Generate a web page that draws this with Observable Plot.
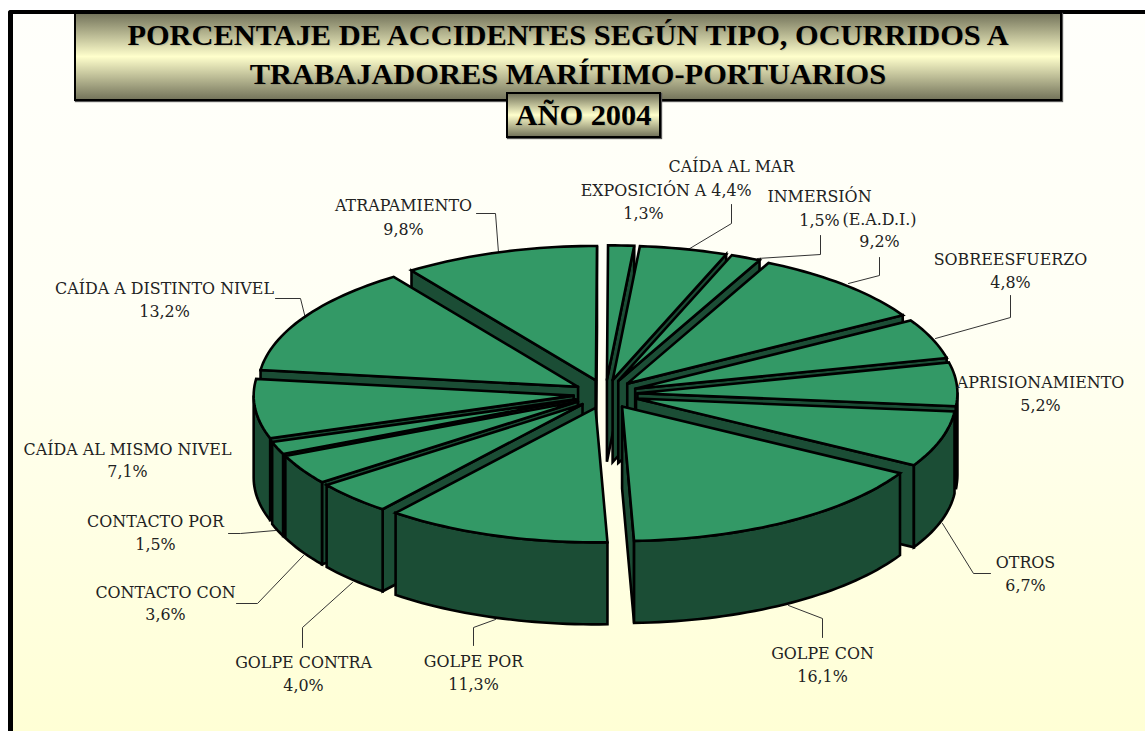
<!DOCTYPE html>
<html><head><meta charset="utf-8">
<script src="https://cdn.jsdelivr.net/npm/d3@7"></script>
<script src="https://cdn.jsdelivr.net/npm/@observablehq/plot@0.6"></script>
<style>
html,body{margin:0;padding:0;background:#fff;}
#page{position:relative;width:1145px;height:731px;overflow:hidden;}
#frame{position:absolute;left:8px;top:10px;width:1160px;height:760px;box-sizing:border-box;border-left:5px solid #000;border-top:4px solid #000;border-top-left-radius:3px;background:linear-gradient(#fffffb 0%,#fffff4 40%,#ffffd2 100%);}
.box{position:absolute;box-sizing:border-box;border:2px solid #000;box-shadow:1px 1px 1px #555;background:linear-gradient(#75755c 0%,#ffffcc 50%,#75755c 100%);font-family:"Liberation Serif",serif;font-weight:bold;color:#000;text-align:center;text-shadow:1px 1px 1px rgba(0,0,0,.12);}
#title{left:74px;top:12px;width:988px;height:89px;font-size:30.4px;line-height:39px;padding-top:2px;}
#year{left:506px;top:92px;width:155px;height:46px;font-size:30.4px;line-height:42px;}
#page svg{position:absolute;left:0;top:0;background:transparent;}
</style></head><body>
<div id="page">
<div id="frame"></div>
<div id="title" class="box">PORCENTAJE DE ACCIDENTES SEGÚN TIPO, OCURRIDOS A<br>TRABAJADORES MARÍTIMO-PORTUARIOS</div>
<div id="year" class="box">AÑO 2004</div>
</div>
<script>
const names = ["EXPOSICIÓN A","CAÍDA AL MAR","INMERSIÓN","(E.A.D.I.)","SOBREESFUERZO","APRISIONAMIENTO","OTROS","GOLPE CON","GOLPE POR","GOLPE CONTRA","CONTACTO CON","CONTACTO POR","CAÍDA AL MISMO NIVEL","CAÍDA A DISTINTO NIVEL","ATRAPAMIENTO"];
const values = [1.3,4.4,1.5,9.2,4.8,5.2,6.7,16.1,11.3,4.0,3.6,1.5,7.1,13.2,9.8];
const valueLabels = ["1,3%","4,4%","1,5%","9,2%","4,8%","5,2%","6,7%","16,1%","11,3%","4,0%","3,6%","1,5%","7,1%","13,2%","9,8%"];
// label anchor positions (same order as names)
const labelX = [643,731,819,879,1010,1040,1025,822,473,303,165,155,127,164,403];
const labelNameY = [190,166,196,219,259,382,562,653,661,662,592,521,449,288,205];
const labelValueY = [213,190,220,241,282,405,585,676,684,685,614,544,471,311,229];
// leader lines
const leaders = [
 [[731,204],[731,223],[686,250]],
 [[820,235],[820,254],[757,258]],
 [[879,257],[879,275],[848,283]],
 [[1010,295],[1010,317],[935,338]],
 [[990,573],[973,573],[942,523]],
 [[822,637],[822,618],[788,605]],
 [[473,645],[473,627],[495,619]],
 [[302,647],[302,627],[352,582]],
 [[236,603],[257,603],[303,555]],
 [[228,533],[240,533],[275,530]],
 [[275,298],[300,298],[305,318]],
 [[476,213],[495,213],[498,252]]
];
// pie geometry in chart units
const pie = {cx:605, cy:393.7, rx:320, ry:134.5, ex:32, ey:14.4, depth:82, rotate:0.2*Math.PI/180};
const colorTop = "#339966", colorSide = "#1b4d35";

const total = d3.sum(values);
let acc = 0;
const slices = values.map((v,i)=>{
  const a0 = pie.rotate+acc/total*2*Math.PI; acc += v;
  const a1 = pie.rotate+acc/total*2*Math.PI;
  const mid = (a0+a1)/2;
  return {i,a0,a1,mid,
    ax: pie.cx+pie.ex*Math.sin(mid),
    ay: pie.cy-pie.ey*Math.cos(mid)};
});
const polys = [];
let pid = 0;
function addPoly(pts,fill){
  const id = pid++;
  [...pts,pts[0]].forEach(p=>polys.push({x:p[0],y:p[1],id,fill}));
}
function rim(s,a){return [s.ax+pie.rx*Math.sin(a), s.ay-pie.ry*Math.cos(a)];}
function arc(s,a0,a1){
  const n = Math.max(2,Math.ceil((a1-a0)/(Math.PI/120)));
  return d3.range(n+1).map(k=>rim(s,a0+(a1-a0)*k/n));
}
const down = p=>[p[0],p[1]+pie.depth];
[...slices].sort((a,b)=>Math.cos(b.mid)-Math.cos(a.mid)).forEach(s=>{
  const A=[s.ax,s.ay];
  if(Math.sin(s.a0)<0){const P=rim(s,s.a0);addPoly([A,P,down(P),down(A)],colorSide);}
  if(Math.sin(s.a1)>0){const P=rim(s,s.a1);addPoly([A,P,down(P),down(A)],colorSide);}
  const r0=Math.max(s.a0,Math.PI/2), r1=Math.min(s.a1,3*Math.PI/2);
  if(r1>r0){const t=arc(s,r0,r1);addPoly([...t,...t.slice().reverse().map(down)],colorSide);}
  addPoly([A,...arc(s,s.a0,s.a1)],colorTop);
});
const leaderRows = leaders.flatMap((l,k)=>l.map(p=>({x:p[0],y:p[1],k})));
const labelRows = names.map((n,i)=>({n,v:valueLabels[i],x:labelX[i],y1:labelNameY[i],y2:labelValueY[i]}));
const font = "DejaVu Serif";
const plot = Plot.plot({
  width:1145,height:731,margin:0,
  x:{domain:[0,1145],range:[0,1145],axis:null},
  y:{domain:[0,731],range:[0,731],axis:null},
  color:{type:"identity"},
  style:{background:"transparent"},
  marks:[
    Plot.line(leaderRows,{x:"x",y:"y",z:"k",stroke:"#333",strokeWidth:1}),
    Plot.line(polys,{x:"x",y:"y",z:"id",fill:"fill",stroke:"#000",strokeWidth:2.6,strokeLinejoin:"miter",strokeMiterlimit:3}),
    Plot.text(labelRows,{x:"x",y:"y1",text:"n",fontFamily:font,fontSize:15.9,fill:"#222"}),
    Plot.text(labelRows,{x:"x",y:"y2",text:"v",fontFamily:font,fontSize:15.9,fill:"#222"})
  ]
});
document.getElementById("page").appendChild(plot);
</script>
</body></html>
